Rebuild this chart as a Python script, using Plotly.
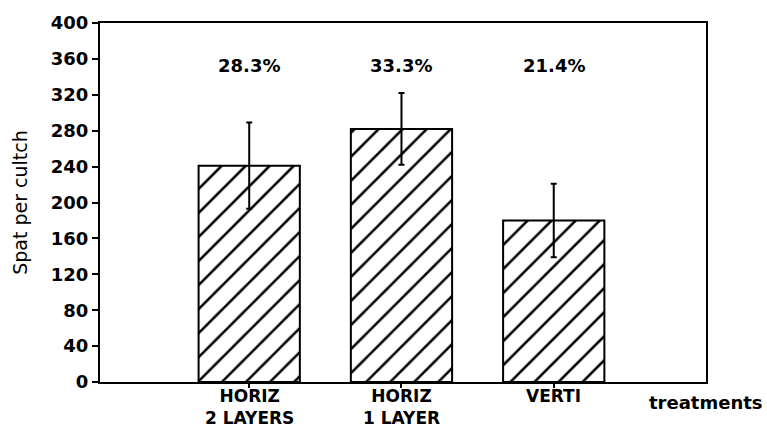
import plotly.graph_objects as go

categories = ["HORIZ<br>2 LAYERS", "HORIZ<br>1 LAYER", "VERTI"]
spat_means = [241, 282, 180]
spat_errors = [48, 40, 41]
percent_labels = ["28.3%", "33.3%", "21.4%"]
y_ticks = [0, 40, 80, 120, 160, 200, 240, 280, 320, 360, 400]

FONT = "DejaVu Sans"
xpos = list(range(len(categories)))

fig = go.Figure()
fig.add_trace(go.Bar(
    x=xpos, y=spat_means, width=0.665,
    marker=dict(color="white", line=dict(color="black", width=2),
                pattern=dict(shape="/", size=17, solidity=0.15, fgcolor="black",
                             bgcolor="white", fgopacity=1)),
    error_y=dict(type="data", array=spat_errors, visible=True, color="black", thickness=2, width=3),
    showlegend=False,
))

for i, t in enumerate(percent_labels):
    fig.add_annotation(x=xpos[i], y=353, text=t, showarrow=False,
                       font=dict(family=FONT, size=18, color="black", weight="bold"))

# category labels under the axis
for i, cat in enumerate(categories):
    fig.add_annotation(x=xpos[i], y=0, yref="paper", yanchor="top", yshift=-2,
                       text=cat, showarrow=False, align="center",
                       font=dict(family=FONT, size=17, color="black", weight="bold"))

fig.add_annotation(x=1, xref="paper", xanchor="center", y=0, yref="paper",
                   yanchor="middle", yshift=-20, text="treatments", showarrow=False,
                   font=dict(family=FONT, size=18, color="black", weight="bold"))

fig.update_layout(
    width=767, height=429,
    margin=dict(l=100, r=61, t=23, b=47),
    paper_bgcolor="white", plot_bgcolor="white",
    xaxis=dict(range=[-0.98, 3.0], tickvals=xpos, ticktext=["", "", ""], automargin=False,
               showline=True, linecolor="black", linewidth=2, mirror=True,
               ticks="outside", ticklen=4, tickwidth=2, tickcolor="black",
               showgrid=False, zeroline=False),
    yaxis=dict(range=[0, 400], tickvals=y_ticks, automargin=False,
               showline=True, linecolor="black", linewidth=2, mirror=True,
               ticks="outside", ticklen=6, tickwidth=2, tickcolor="black",
               showgrid=False, zeroline=False,
               title=dict(text="Spat per cultch", standoff=18,
                          font=dict(family=FONT, size=19, color="black")),
               tickfont=dict(family=FONT, size=18, color="black", weight="bold")),
)

fig.write_html("out.html", config={"displayModeBar": False},
               post_script="document.body.style.margin='0';")
